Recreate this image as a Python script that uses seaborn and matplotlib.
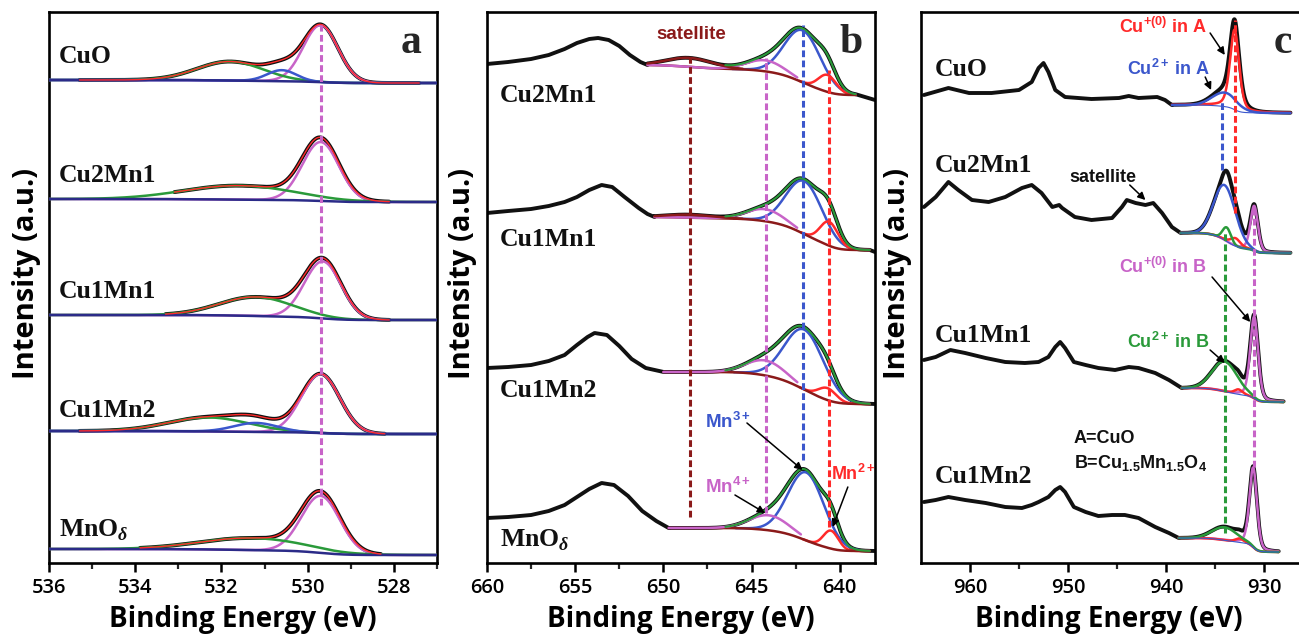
import numpy as np
import matplotlib
matplotlib.use("Agg")
import matplotlib.pyplot as plt
import seaborn as sns

# ---------------- data ----------------
# y values are intensity offsets in plot units (stacked spectra)

# Panel a : O 1s
A_LABELS = ["CuO", "Cu2Mn1", "Cu1Mn1", "Cu1Mn2", "MnO$_{\\mathit{δ}}$"]
A_LABEL_Y = [500, 381, 265, 146, 26]
A_BG_HIGH = [483, 364, 248, 132, 14]
A_BG_LOW = [480, 361, 243, 129, 8]
A_PINK_POS = [529.7, 529.7, 529.65, 529.7, 529.7]
A_PINK_H = [57, 59, 57, 59, 57]
A_PINK_W = [0.95, 1.0, 1.0, 1.05, 1.05]
A_GREEN_POS = [531.8, 531.6, 531.2, 532.3, 531.3]
A_GREEN_H = [19, 14, 19, 14, 12]
A_GREEN_W = [1.8, 3.0, 2.0, 2.2, 2.8]
A_BLUE_POS = [530.6, 531.0, 531.0, 531.2, 531.0]
A_BLUE_H = [11, 0, 0, 9, 0]
A_BLUE_W = [0.8, 1.0, 1.0, 1.2, 1.0]
A_EXP_START = [535.3, 533.1, 533.3, 535.3, 533.9]
A_EXP_END = [527.4, 528.1, 528.1, 528.2, 528.3]
A_REF_LINE = 529.7

# Panel b : Mn 2p
B_LABELS = ["Cu2Mn1", "Cu1Mn1", "Cu1Mn2", "MnO$_{\\mathit{δ}}$"]
B_LABEL_Y = [461, 317, 166, 16]
B_FIT_START = [650.9, 650.5, 650.0, 649.7]
B_FIT_END = [639.1, 638.3, 638.3, 638.3]
B_BG_HIGH = [498, 346, 191, 35]
B_BG_LOW = [468, 313, 159, 12]
B_MN3_POS = [642.1, 642.0, 642.0, 641.9]
B_MN3_H = [52, 53, 60, 68]
B_MN3_W = [2.4, 2.4, 2.6, 2.4]
B_MN4_POS = [644.2, 644.2, 644.2, 644.0]
B_MN4_H = [11, 12, 15, 15]
B_MN4_W = [2.5, 2.5, 2.6, 2.6]
B_MN2_POS = [640.7, 640.6, 640.7, 640.5]
B_MN2_H = [17, 24, 12, 18]
B_MN2_W = [1.2, 1.2, 1.2, 1.0]
B_SAT_POS = [648.5, 648.5, 648.5, 648.5]
B_SAT_H = [9, 3, 0, 0]
B_SAT_W = [3.0, 3.0, 3.0, 3.0]
# measured curve outside the fitted window (energy, intensity)
B_PRE_E = [
    [660.0, 658.8, 657.5, 656.5, 655.6, 654.9, 654.2, 653.7, 653.1, 652.5, 651.9, 651.3, 650.9],
    [660.0, 658.8, 657.5, 656.5, 655.6, 654.9, 654.2, 653.5, 652.9, 652.2, 651.4, 650.9, 650.5],
    [660.0, 658.8, 657.5, 656.5, 655.6, 654.9, 654.3, 653.9, 653.2, 652.5, 651.8, 651.0, 650.0],
    [660.0, 658.8, 657.5, 656.5, 655.6, 654.9, 654.2, 653.5, 652.8, 652.0, 651.2, 650.4, 649.7],
]
B_PRE_Y = [
    [499, 501, 504, 508, 514, 520, 524, 525, 523, 517, 508, 501, 498],
    [350, 352, 354, 357, 361, 366, 373, 378, 376, 366, 355, 349, 346],
    [195, 196, 198, 202, 208, 218, 226, 230, 228, 217, 204, 195, 191],
    [45, 46, 48, 52, 58, 66, 74, 80, 78, 67, 52, 42, 35],
]
B_POST_E = [[638.0], [638.0], [638.0], [638.0]]
B_POST_Y = [[463], [311], [159], [12]]

# Panel c : Cu 2p3/2
C_LABELS = ["CuO", "Cu2Mn1", "Cu1Mn1", "Cu1Mn2"]
C_LABEL_Y = [487, 391, 221, 80]
C_FIT_START = [939.4, 938.5, 938.4, 938.7]
C_FIT_END = [927.3, 927.3, 928.0, 928.5]
C_BG_HIGH = [458, 330, 175, 25]
C_BG_LOW = [450, 310, 161, 11]
C_CUA1_POS = [933.0, 932.9, 932.6, 932.5]   # Cu+(0) in A (red)
C_CUA1_H = [80, 8, 5, 4]
C_CUA1_W = [1.1, 1.2, 1.0, 1.0]
C_CUA2_POS = [934.0, 934.0, 934.0, 934.0]   # Cu2+ in A (blue)
C_CUA2_H = [14, 55, 0, 0]
C_CUA2_W = [3.0, 2.6, 3.0, 3.0]
C_CUB2_POS = [934.0, 933.8, 934.0, 934.0]   # Cu2+ in B (green)
C_CUB2_H = [0, 14, 30, 13]
C_CUB2_W = [3.0, 1.0, 3.0, 3.0]
C_CUB1_POS = [931.0, 931.0, 931.0, 931.1]   # Cu+(0) in B (pink)
C_CUB1_H = [0, 45, 82, 80]
C_CUB1_W = [0.9, 0.9, 0.95, 0.9]
C_PRE_E = [
    [964.7, 962.2, 960.1, 957.8, 955.0, 953.7, 953.0, 952.5, 952.0, 951.3, 950.3, 947.6, 944.8, 943.8, 942.8, 940.9, 940.1, 939.4],
    [964.7, 963.5, 962.2, 961.2, 959.8, 958.1, 956.4, 954.7, 953.7, 952.7, 951.6, 950.9, 950.6, 949.3, 947.6, 945.5, 944.5, 944.0, 943.1, 942.1, 941.3, 940.4, 939.4, 938.5],
    [964.7, 963.5, 962.0, 960.5, 958.4, 956.4, 954.4, 953.0, 952.0, 951.3, 950.8, 950.3, 949.4, 948.2, 946.9, 945.2, 943.8, 942.8, 941.1, 939.7, 938.4],
    [964.7, 963.5, 962.2, 960.5, 958.4, 956.4, 954.7, 953.7, 953.0, 952.0, 951.3, 950.8, 950.3, 949.4, 948.2, 946.9, 945.5, 944.2, 942.8, 941.1, 939.7, 938.7],
]
C_PRE_Y = [
    [468, 475, 470, 470, 473, 481, 495, 500, 491, 473, 466, 464, 465, 467, 465, 466, 463, 458],
    [356, 366, 381, 373, 363, 361, 366, 375, 378, 370, 356, 358, 355, 346, 343, 345, 356, 363, 360, 358, 360, 350, 336, 330],
    [203, 206, 213, 210, 205, 201, 200, 201, 206, 216, 221, 215, 201, 198, 195, 193, 196, 195, 190, 183, 175],
    [61, 63, 66, 63, 60, 56, 55, 58, 61, 66, 73, 76, 71, 56, 51, 47, 48, 48, 45, 36, 30, 25],
]

# ---------------- style ----------------
sns.set_theme(style="white")
plt.rcParams.update({
    "font.family": ["Open Sans", "DejaVu Sans"],
    "mathtext.fontset": "custom",
    "mathtext.rm": "Liberation Sans:bold",
    "mathtext.bf": "Liberation Sans:bold",
    "mathtext.it": "Liberation Serif:italic:bold",
    "mathtext.default": "rm",
})

BLACK = "#111111"
RED = "#ff2a2a"
PINK = "#c864c8"
GREEN = "#2a9a3a"
BLUE = "#3b57cc"
NAVY = "#2b2b88"
MAROON = "#8b1a1a"
LW_EXP = 2.8
LW_COMP = 1.8
DASH = (0, (2.2, 1.1))

W, H = 1299, 635
fig = plt.figure(figsize=(W / 100, H / 100), dpi=100)


def make_ax(left, width, xlim, major, minor, ylab_x, xlab_x=0.5):
    ax = fig.add_axes([left / W, (H - 563) / H, width / W, 551 / H])
    ax.set_xlim(*xlim)
    ax.set_ylim(0, 551)
    ax.set_xticks(major)
    ax.set_xticks(minor, minor=True)
    ax.set_yticks([])
    for s in ax.spines.values():
        s.set_linewidth(1.9)
        s.set_color("black")
    ax.tick_params(axis="x", which="major", direction="out", length=6.5, width=1.8,
                   pad=4, labelsize=14.5, colors="black", bottom=True)
    ax.tick_params(axis="x", which="minor", direction="out", length=4, width=1.6, bottom=True)
    for t in ax.get_xticklabels():
        t.set_fontweight("semibold")
    ax.set_xlabel("Binding Energy (eV)", fontsize=20, fontweight="bold", color="black")
    ax.xaxis.set_label_coords(xlab_x, -0.0765)
    ax.set_ylabel("Intensity (a.u.)", fontsize=21, fontweight="bold", color="black")
    ax.yaxis.set_label_coords(ylab_x, 0.525)
    return ax


def line(ax, x, y, color, lw, z, ls="-"):
    sns.lineplot(x=np.asarray(x), y=np.asarray(y), ax=ax, sort=False, estimator=None,
                 errorbar=None, legend=False, color=color, linewidth=lw, zorder=z,
                 linestyle=ls)


def pv(x, c, h, w, eta=0.0):
    g = np.exp(-4 * np.log(2) * (x - c) ** 2 / w ** 2)
    lo = 1.0 / (1 + 4 * (x - c) ** 2 / w ** 2)
    return h * ((1 - eta) * g + eta * lo)


def shirley(x, total, b_hi, b_lo):
    xr, sr = x[::-1], total[::-1]
    cum = np.concatenate([[0.0], np.cumsum(0.5 * (sr[1:] + sr[:-1]) * np.diff(xr))])
    frac = cum / cum[-1] if cum[-1] > 0 else cum
    return (b_lo + (b_hi - b_lo) * frac)[::-1]


def sample_label(ax, x, y, text):
    ax.text(x, y, text, fontsize=18.5, fontweight="bold", family="Liberation Serif",
            color=BLACK, ha="left", va="baseline", zorder=10)


def arrow(ax, xy_from, xy_to):
    ax.annotate("", xy=xy_to, xytext=xy_from,
                arrowprops=dict(arrowstyle="-|>", color="black", lw=1.1,
                                mutation_scale=11, shrinkA=0, shrinkB=0), zorder=11)


# ---------------- panel a ----------------
axa = make_ax(49, 388, (536, 527), [536, 534, 532, 530, 528], [535, 533, 531, 529, 527],
              ylab_x=-0.020)
for i in range(len(A_LABELS)):
    x = np.linspace(536, 527, 700)
    pink = pv(x, A_PINK_POS[i], A_PINK_H[i], A_PINK_W[i])
    green = pv(x, A_GREEN_POS[i], A_GREEN_H[i], A_GREEN_W[i])
    blue = pv(x, A_BLUE_POS[i], A_BLUE_H[i], A_BLUE_W[i])
    total = pink + green + blue
    bg = shirley(x, total, A_BG_HIGH[i], A_BG_LOW[i])
    env = bg + total
    m = (x <= A_EXP_START[i]) & (x >= A_EXP_END[i])
    line(axa, x[m], env[m], BLACK, LW_EXP, 2)
    line(axa, x, bg + pink, PINK, LW_COMP, 3)
    line(axa, x, bg + green, GREEN, LW_COMP, 3)
    if A_BLUE_H[i] > 0:
        line(axa, x, bg + blue, BLUE, LW_COMP, 3)
    line(axa, x, bg, NAVY, LW_COMP, 4)
    line(axa, x[m], env[m], RED, 1.0, 6)
    sample_label(axa, 535.77, A_LABEL_Y[i], A_LABELS[i])
axa.vlines(A_REF_LINE, 58, 538, colors=PINK, linewidth=2.2, linestyles=DASH, zorder=7)
axa.text(0.959, 510, "a", transform=axa.get_yaxis_transform(), fontsize=30,
         fontweight="bold", family="Liberation Serif", ha="right", va="baseline")

# ---------------- panel b ----------------
axb = make_ax(487, 388, (660, 638), [660, 655, 650, 645, 640], [657.5, 652.5, 647.5, 642.5],
              ylab_x=-0.025)
for i in range(len(B_LABELS)):
    x = np.linspace(B_FIT_START[i], B_FIT_END[i], 600)
    sat = pv(x, B_SAT_POS[i], B_SAT_H[i], B_SAT_W[i])
    p4 = pv(x, B_MN4_POS[i], B_MN4_H[i], B_MN4_W[i])
    p3 = pv(x, B_MN3_POS[i], B_MN3_H[i], B_MN3_W[i])
    p2 = pv(x, B_MN2_POS[i], B_MN2_H[i], B_MN2_W[i])
    total = sat + p4 + p3 + p2
    bg = shirley(x, total, B_BG_HIGH[i], B_BG_LOW[i])
    env = bg + total
    ex = np.concatenate([B_PRE_E[i], x, B_POST_E[i]])
    ey = np.concatenate([B_PRE_Y[i], env, B_POST_Y[i]])
    line(axb, ex, ey, BLACK, LW_EXP, 2)
    mb = x <= B_MN3_POS[i] + 4.0
    line(axb, x[mb], (bg + p3)[mb], BLUE, LW_COMP, 3)
    mr = x <= B_MN2_POS[i] + 1.6
    line(axb, x[mr], (bg + p2)[mr], RED, LW_COMP, 3)
    line(axb, x, bg, MAROON, LW_COMP, 4)
    mp = x >= B_MN4_POS[i] - 1.8
    line(axb, x[mp], (bg + p4)[mp], PINK, LW_COMP, 4.5)
    if B_SAT_H[i] > 0:
        ms = x >= 645.5
        line(axb, x[ms], (bg + sat)[ms], MAROON, LW_COMP, 4.6)
    mg = x <= 646.5
    line(axb, x[mg], env[mg], GREEN, 1.5, 6)
    sample_label(axb, 659.26, B_LABEL_Y[i], B_LABELS[i])
axb.vlines(648.5, 46, 506, colors=MAROON, linewidth=2.2, linestyles=DASH, zorder=7)
axb.vlines(644.2, 50, 505, colors=PINK, linewidth=2.2, linestyles=DASH, zorder=7)
axb.vlines(642.1, 103, 538, colors=BLUE, linewidth=2.2, linestyles=DASH, zorder=7)
axb.vlines(640.6, 36, 493, colors=RED, linewidth=2.2, linestyles=DASH, zorder=7)
axb.text(648.4, 524, "satellite", color=MAROON, fontsize=13.5, fontweight="bold",
         family="Liberation Sans", ha="center", va="baseline")
axb.text(647.66, 135, "Mn$^{3+}$", color=BLUE, fontsize=13.5, fontweight="bold",
         family="Liberation Sans", ha="left", va="baseline")
axb.text(647.66, 70, "Mn$^{4+}$", color=PINK, fontsize=13.5, fontweight="bold",
         family="Liberation Sans", ha="left", va="baseline")
axb.text(640.5, 83, "Mn$^{2+}$", color=RED, fontsize=13, fontweight="bold",
         family="Liberation Sans", ha="left", va="baseline", zorder=12)
arrow(axb, (645.26, 140), (642.11, 93))
arrow(axb, (645.94, 68), (644.23, 50))
arrow(axb, (639.54, 76), (640.4, 36))
axb.text(0.969, 510, "b", transform=axb.get_yaxis_transform(), fontsize=30,
         fontweight="bold", family="Liberation Serif", ha="right", va="baseline")

# ---------------- panel c ----------------
axc = make_ax(921, 392, (965, 925), [960, 950, 940, 930], [955, 945, 935],
              ylab_x=-0.023, xlab_x=0.478)
for i in range(len(C_LABELS)):
    x = np.linspace(C_FIT_START[i], C_FIT_END[i], 700)
    a1 = pv(x, C_CUA1_POS[i], C_CUA1_H[i], C_CUA1_W[i], 0.4)
    a2 = pv(x, C_CUA2_POS[i], C_CUA2_H[i], C_CUA2_W[i])
    b2 = pv(x, C_CUB2_POS[i], C_CUB2_H[i], C_CUB2_W[i])
    b1 = pv(x, C_CUB1_POS[i], C_CUB1_H[i], C_CUB1_W[i], 0.3)
    total = a1 + a2 + b2 + b1
    bg = shirley(x, total, C_BG_HIGH[i], C_BG_LOW[i])
    env = bg + total
    ex = np.concatenate([C_PRE_E[i], x])
    ey = np.concatenate([C_PRE_Y[i], env])
    line(axc, ex, ey, BLACK, LW_EXP, 2)
    if C_CUB1_H[i] > 0:
        line(axc, x, bg + b1, PINK, LW_COMP, 3)
    if C_CUA1_H[i] > 0:
        line(axc, x, bg + a1, RED, LW_COMP, 3.2)
    if C_CUA2_H[i] > 0:
        line(axc, x, bg + a2, BLUE, LW_COMP, 3.4)
    if C_CUB2_H[i] > 0:
        line(axc, x, bg + b2, GREEN, LW_COMP, 3.6)
    line(axc, x, bg, BLUE, 0.8, 3.8)
    sample_label(axc, 963.57, C_LABEL_Y[i], C_LABELS[i])
axc.vlines(934.25, 393, 463, colors=BLUE, linewidth=2.2, linestyles=DASH, zorder=7)
axc.vlines(933.0, 350, 543, colors=RED, linewidth=2.2, linestyles=DASH, zorder=7)
axc.vlines(934.0, 30, 330, colors=GREEN, linewidth=2.2, linestyles=DASH, zorder=7)
axc.vlines(931.0, 96, 356, colors=PINK, linewidth=2.2, linestyles=DASH, zorder=7)
ann = dict(fontsize=13, fontweight="bold", family="Liberation Sans", ha="left", va="baseline")
axc.text(944.8, 530, "Cu$^{+(0)}$ in A", color=RED, **ann)
axc.text(944.0, 488, "Cu$^{2+}$ in A", color=BLUE, **ann)
axc.text(949.9, 381, "satellite", color=BLACK, **ann)
axc.text(944.8, 290, "Cu$^{+(0)}$ in B", color=PINK, **ann)
axc.text(944.0, 215, "Cu$^{2+}$ in B", color=GREEN, **ann)
axc.text(949.4, 120, "A=CuO", color=BLACK, **ann)
axc.text(949.4, 95, "B=Cu$_{1.5}$Mn$_{1.5}$O$_{4}$", color=BLACK, **ann)
arrow(axc, (935.5, 530), (934.0, 508))
arrow(axc, (936.0, 486), (935.4, 473))
arrow(axc, (943.7, 378), (942.1, 363))
arrow(axc, (935.3, 286), (931.4, 241))
arrow(axc, (935.5, 213), (934.0, 200))
axc.text(0.946, 510, "c", transform=axc.get_yaxis_transform(), fontsize=30,
         fontweight="bold", family="Liberation Serif", ha="right", va="baseline")

fig.savefig("out.png", dpi=100)
